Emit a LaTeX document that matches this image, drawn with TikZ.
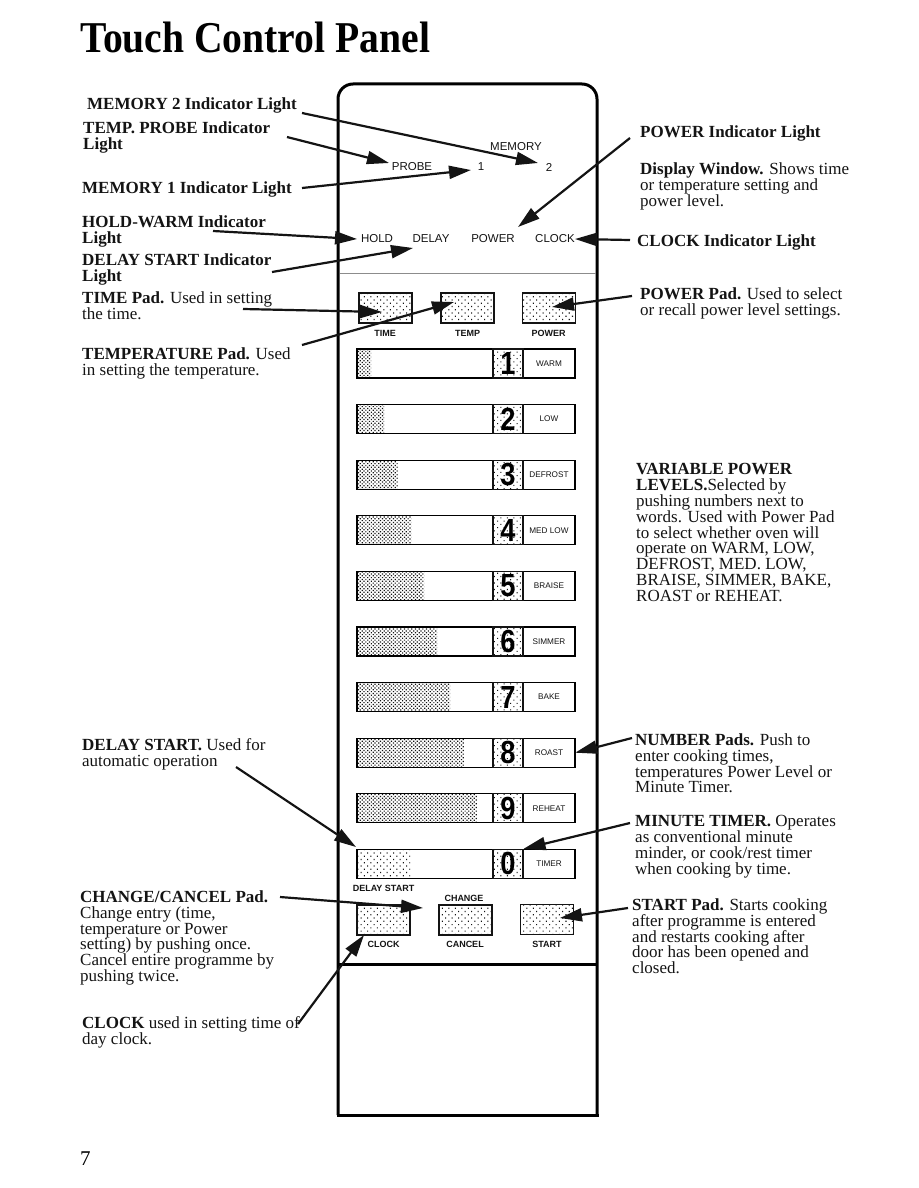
\documentclass[tikz,border=0pt]{standalone}
\usepackage{fontspec}
\setmainfont{Liberation Serif}
\setsansfont{Liberation Sans}
\usepackage{xcolor}
\usepackage{graphicx}
\usepackage{tikz}
\usetikzlibrary{positioning, arrows.meta, calc, patterns.meta}
\definecolor{inkblack}{HTML}{141414}
\definecolor{rulegray}{HTML}{8C8C8C}

\tikzset{
  note/.style={anchor=north west, inner sep=0pt, align=left, text=inkblack,
               font=\fontsize{17}{15.8}\selectfont},
  lamp/.style={inner sep=0pt, text=inkblack, font=\sffamily\fontsize{11.5}{12}\selectfont},
  padtext/.style={inner sep=0pt, text=inkblack, font=\sffamily\bfseries\fontsize{9}{10}\selectfont},
  dense/.style={pattern={Dots[distance=2.6pt, angle=45, radius=0.85pt]}, pattern color=inkblack},
  sparse/.style={pattern={Dots[distance=4.6pt, angle=45, radius=0.75pt]}, pattern color=inkblack},
  padkey/.style={draw=inkblack, line width=1.2pt, sparse, minimum width=53pt,
                 minimum height=30pt, inner sep=0pt},
  digitkey/.style={draw=inkblack, line width=1.2pt, sparse, minimum width=30pt,
                   minimum height=29pt, inner sep=0pt,
                   font=\sffamily\bfseries\fontsize{32}{32}\selectfont},
  wordtext/.style={inner sep=0pt, minimum width=52pt, text=inkblack,
                   font=\sffamily\fontsize{8.2}{9}\selectfont},
  callout/.style={draw=inkblack, line width=2.2pt, -{Triangle[length=22pt, width=13pt]}},
}

\begin{document}
\begin{tikzpicture}[x=1pt, y=-1pt]
  \fill[white] (0,0) rectangle (918,1188);
  \useasboundingbox (0,0) rectangle (918,1188);

  \node[anchor=base west, inner sep=0pt, font=\bfseries\fontsize{44}{44}\selectfont]
    (title) at (80,53) {\scalebox{0.9}[1]{Touch Control Panel}};

  % panel body
  \draw[line width=3pt, rounded corners=15pt] (338,1115) |- (467,84) -| (597,1115);
  \draw[line width=3pt] (336.5,1115) -- (598.5,1115);
  \draw[line width=3pt] (338,964) -- (597,964);
  \draw[line width=0.9pt, rulegray] (340,273) -- (596,273);

  % display window
  \node[lamp] (memory) at (516,147) {MEMORY};
  \node[lamp] (probe) at (412,167) {PROBE};
  \node[lamp] (memone) at (481,167) {1};
  \node[lamp] (memtwo) at (549,167) {2};
  \node[lamp] (hold) at (377,239) {HOLD};
  \node[lamp] (delay) at (431,239) {DELAY};
  \node[lamp] (power) at (493,239) {POWER};
  \node[lamp] (clock) at (555,239) {CLOCK};

  % function pads
  \node[padkey] (timepad) at (385.5,308) {};
  \node[padkey] (temppad) at (467.5,308) {};
  \node[padkey] (powerpad) at (549,308) {};
  \node[padtext] (timetxt) at (385,333) {TIME};
  \node[padtext] (temptxt) at (467.5,333) {TEMP};
  \node[padtext] (powertxt) at (548.5,333) {POWER};

  % number rows
  \foreach \d/\word/\sx/\pat [count=\i from 0] in {1/WARM/371/dense, 2/LOW/384/dense,
      3/DEFROST/398/dense, 4/MED LOW/411/dense, 5/BRAISE/424/dense, 6/SIMMER/437/dense,
      7/BAKE/450/dense, 8/ROAST/464/dense, 9/REHEAT/477/dense, 0/TIMER/410/sparse} {
    \pgfmathsetmacro{\ry}{349+55.6*\i}
    \path[\pat] (357,\ry) rectangle (\sx,\ry+29);
    \draw[line width=1.2pt] (357,\ry) rectangle (575,\ry+29);
    \node[digitkey] (n\d) at (508,\ry+14.5) {\scalebox{0.85}[1]{\d}};
    \node[wordtext] (w\d) at (549,\ry+14.5) {\word};
  }

  % bottom pads
  \node[padtext] (delaytxt) at (383.5,888) {DELAY START};
  \node[padtext] (changetxt) at (464,898) {CHANGE};
  \node[padkey] (clockpad) at (383.5,920) {};
  \node[padkey] (cancelpad) at (465.5,920) {};
  \node[padkey] (startpad) at (547,919.5) {};
  \node[padtext] (clocktxt) at (383.5,944) {CLOCK};
  \node[padtext] (canceltxt) at (465,944) {CANCEL};
  \node[padtext] (starttxt) at (547,944) {START};

  % left notes
  \node[note] (lblmemtwo) at (87,97.5) {\textbf{MEMORY 2 Indicator Light}};
  \node[note] (lblprobe) at (83,121.5) {\textbf{TEMP. PROBE Indicator}\\\textbf{Light}};
  \node[note] (lblmemone) at (82,181.5) {\textbf{MEMORY 1 Indicator Light}};
  \node[note] (lblhold) at (82,215.5) {\textbf{HOLD-WARM Indicator}\\\textbf{Light}};
  \node[note] (lbldelay) at (82,253.5) {\textbf{DELAY START Indicator}\\\textbf{Light}};
  \node[note] (lbltime) at (82,291.5) {\textbf{TIME Pad.} Used in setting\\the time.};
  \node[note] (lbltemp) at (82,347.5) {\textbf{TEMPERATURE Pad.} Used\\in setting the temperature.};
  \node[note] (lbldelaystart) at (82,738.5) {\textbf{DELAY START.} Used for\\automatic operation};
  \node[note] (lblchange) at (80,890.5) {\textbf{CHANGE/CANCEL Pad.}\\Change entry (time,\\temperature or Power\\setting) by pushing once.\\Cancel entire programme by\\pushing twice.};
  \node[note] (lblclock) at (82,1016.5) {\textbf{CLOCK} used in setting time of\\day clock.};

  % right notes
  \node[note] (lblpower) at (640,125.5) {\textbf{POWER Indicator Light}};
  \node[note] (lbldisplay) at (640,162.5) {\textbf{Display Window.} Shows time\\or temperature setting and\\power level.};
  \node[note] (lblclocklt) at (637,234.5) {\textbf{CLOCK Indicator Light}};
  \node[note] (lblpowerpad) at (640,287.5) {\textbf{POWER Pad.} Used to select\\or recall power level settings.};
  \node[note] (lblvariable) at (636,463.5) {\textbf{VARIABLE POWER}\\\textbf{LEVELS.}Selected by\\pushing numbers next to\\words. Used with Power Pad\\to select whether oven will\\operate on WARM, LOW,\\DEFROST, MED. LOW,\\BRAISE, SIMMER, BAKE,\\ROAST or REHEAT.};
  \node[note] (lblnumber) at (635,733.5) {\textbf{NUMBER Pads.} Push to\\enter cooking times,\\temperatures Power Level or\\Minute Timer.};
  \node[note] (lbltimer) at (635,815.5) {\textbf{MINUTE TIMER.} Operates\\as conventional minute\\minder, or cook/rest timer\\when cooking by time.};
  \node[note] (lblstart) at (632,898.5) {\textbf{START Pad.} Starts cooking\\after programme is entered\\and restarts cooking after\\door has been opened and\\closed.};

  \node[anchor=base west, inner sep=0pt, font=\fontsize{21}{21}\selectfont] (pageno) at (80,1165) {7};

  % callout ends
  \coordinate (memtwo-s) at (302,113);     \coordinate (memtwo-e) at (538,163);
  \coordinate (probe-s) at (287,137);      \coordinate (probe-e) at (389,163);
  \coordinate (memone-s) at (302,188);     \coordinate (memone-e) at (471,170);
  \coordinate (hold-s) at (213,231);       \coordinate (hold-e) at (357,239);
  \coordinate (delay-s) at (272,272);      \coordinate (delay-e) at (413,248);
  \coordinate (power-s) at (630,138);      \coordinate (power-e) at (518,227);
  \coordinate (clock-s) at (630,240);      \coordinate (clock-e) at (clock.east);
  \coordinate (timepad-s) at (243,309);    \coordinate (timepad-e) at (382,312);
  \coordinate (temppad-s) at (302,345);    \coordinate (temppad-e) at (454,302);
  \coordinate (powerpad-s) at (632,296);   \coordinate (powerpad-e) at (552,307);
  \coordinate (number-s) at (632,738);     \coordinate (number-e) at (w8.east);
  \coordinate (timer-s) at (630,823);      \coordinate (timer-e) at (n0.north east);
  \coordinate (start-s) at (628,908);      \coordinate (start-e) at (560,918);
  \coordinate (delaystart-s) at (236,767); \coordinate (delaystart-e) at (356,847);
  \coordinate (change-s) at (280,897);     \coordinate (change-e) at (423,908);
  \coordinate (clockpad-s) at (298,1024);  \coordinate (clockpad-e) at (364,935);

  \foreach \c in {memtwo, probe, memone, hold, delay, power, clock, timepad, temppad,
                  powerpad, number, timer, start, delaystart, change, clockpad}
    \draw[callout] (\c-s) -- (\c-e);
\end{tikzpicture}
\end{document}
